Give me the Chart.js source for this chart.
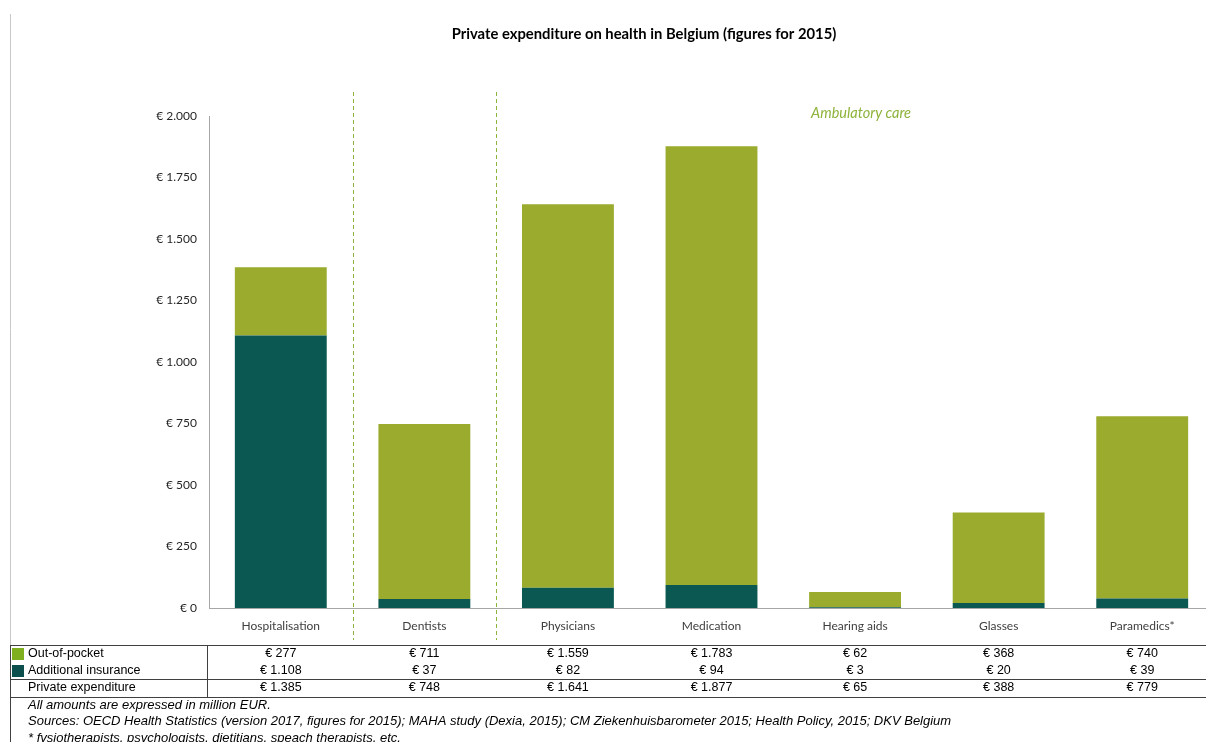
<!DOCTYPE html>
<html>
<head>
<meta charset="utf-8">
<script src="https://cdn.jsdelivr.net/npm/chart.js@4"></script>
<style>
  html, body { margin: 0; padding: 0; background: #fff; overflow: hidden; }
  #wrap { position: relative; width: 1206px; height: 742px; overflow: hidden; }
  canvas { position: absolute; left: 0; top: 0; }
</style>
</head>
<body>
<div id="wrap"><canvas id="chart" width="1214" height="742"></canvas></div>
<script>
// data (million EUR, 2015)
const categories = ['Hospitalisation', 'Dentists', 'Physicians', 'Medication', 'Hearing aids', 'Glasses', 'Paramedics*'];
const outOfPocket = [277, 711, 1559, 1783, 62, 368, 740];
const additionalInsurance = [1108, 37, 82, 94, 3, 20, 39];
const privateExpenditure = [1385, 748, 1641, 1877, 65, 388, 779];
const seriesLabels = ['Out-of-pocket', 'Additional insurance', 'Private expenditure'];
const yMax = 2000;
const yStep = 250;

const chartTitle = 'Private expenditure on health in Belgium (figures for 2015)';
const sectionLabel = 'Ambulatory care';
const footnotes = [
  'All amounts are expressed in million EUR.',
  'Sources: OECD Health Statistics (version 2017, figures for 2015); MAHA study (Dexia, 2015); CM Ziekenhuisbarometer 2015; Health Policy, 2015; DKV Belgium',
  '* fysiotherapists, psychologists, dietitians, speach therapists, etc.'
];

const GREEN = '#9aab2d';
const TEAL = '#0b5852';
const KEY_GREEN = '#7fae1f';
const KEY_TEAL = '#0d4f4c';
const LINE_GREEN = '#8db33a';
const CHART_FONT = 'Lato, "Open Sans", sans-serif';
const TABLE_FONT = '"Liberation Sans", Arial, sans-serif';

function euro(v) {
  return '€ ' + String(v).replace(/\B(?=(\d{3})+(?!\d))/g, '.');
}

const decorations = {
  id: 'decorations',
  afterDraw(chart) {
    const ctx = chart.ctx;
    const xs = chart.scales.x;
    ctx.save();

    // outer left border
    ctx.strokeStyle = '#c8c8c8';
    ctx.lineWidth = 1;
    ctx.beginPath();
    ctx.moveTo(10.5, 14);
    ctx.lineTo(10.5, 645);
    ctx.stroke();

    // title
    ctx.fillStyle = '#000';
    ctx.font = 'bold 14.8px ' + CHART_FONT;
    ctx.textAlign = 'center';
    ctx.textBaseline = 'middle';
    ctx.fillText(chartTitle, 644, 34);

    // dashed separators between hospital / dentists / ambulatory care
    ctx.strokeStyle = LINE_GREEN;
    ctx.setLineDash([4, 3]);
    [0, 1].forEach(i => {
      const x = Math.round((xs.getPixelForValue(i) + xs.getPixelForValue(i + 1)) / 2) + 0.5;
      ctx.beginPath();
      ctx.moveTo(x, 92);
      ctx.lineTo(x, 640);
      ctx.stroke();
    });
    ctx.setLineDash([]);

    ctx.fillStyle = LINE_GREEN;
    ctx.font = 'italic 14.5px ' + CHART_FONT;
    ctx.fillText(sectionLabel, xs.getPixelForValue(4) + 6, 113);

    // data table
    const right = 1206;
    ctx.strokeStyle = '#404040';
    ctx.lineWidth = 1;
    ctx.beginPath();
    ctx.moveTo(10, 645.5); ctx.lineTo(right, 645.5);
    ctx.moveTo(10, 679.5); ctx.lineTo(right, 679.5);
    ctx.moveTo(10, 697.5); ctx.lineTo(right, 697.5);
    ctx.moveTo(207.5, 645); ctx.lineTo(207.5, 697);
    ctx.moveTo(10.5, 645); ctx.lineTo(10.5, 742);
    ctx.stroke();

    const rows = [outOfPocket, additionalInsurance, privateExpenditure];
    const rowY = [654, 671, 688];
    const keys = [KEY_GREEN, KEY_TEAL, null];
    ctx.font = '12.5px ' + TABLE_FONT;
    rows.forEach((vals, r) => {
      if (keys[r]) {
        ctx.fillStyle = keys[r];
        ctx.fillRect(12, rowY[r] - 6, 12, 12);
      }
      ctx.fillStyle = '#000';
      ctx.textAlign = 'left';
      ctx.fillText(seriesLabels[r], 28, rowY[r]);
      ctx.textAlign = 'center';
      vals.forEach((v, i) => ctx.fillText(euro(v), xs.getPixelForValue(i), rowY[r]));
    });

    // footnotes
    ctx.font = 'italic 13px ' + TABLE_FONT;
    ctx.textAlign = 'left';
    footnotes.forEach((t, i) => ctx.fillText(t, 28, 705 + i * 16.5));

    ctx.restore();
  }
};

new Chart(document.getElementById('chart'), {
  type: 'bar',
  data: {
    labels: categories,
    datasets: [
      {
        label: seriesLabels[1],
        data: additionalInsurance,
        backgroundColor: TEAL,
        barPercentage: 0.64,
        categoryPercentage: 1,
      },
      {
        label: seriesLabels[0],
        data: outOfPocket,
        backgroundColor: GREEN,
        barPercentage: 0.64,
        categoryPercentage: 1,
      },
    ],
  },
  options: {
    responsive: false,
    animation: false,
    layout: { padding: { top: 116, right: 0, left: 0, bottom: 0 } },
    plugins: {
      legend: { display: false },
      title: { display: false },
      tooltip: { enabled: false },
    },
    scales: {
      x: {
        stacked: true,
        grid: { display: false, drawTicks: false },
        border: { display: true, color: '#a6a6a6', width: 1 },
        ticks: { color: '#404040', font: { family: CHART_FONT, size: 12 }, padding: 11, maxRotation: 0 },
        afterFit(scale) { scale.height = 134; },
      },
      y: {
        stacked: true,
        min: 0,
        max: yMax,
        grid: { display: false, drawTicks: false },
        border: { display: true, color: '#a6a6a6', width: 1 },
        ticks: {
          stepSize: yStep,
          color: '#262626',
          font: { family: CHART_FONT, size: 12 },
          padding: 12,
          callback: v => euro(v),
        },
        afterFit(scale) { scale.width = 209; },
      },
    },
  },
  plugins: [decorations],
});
</script>
</body>
</html>
